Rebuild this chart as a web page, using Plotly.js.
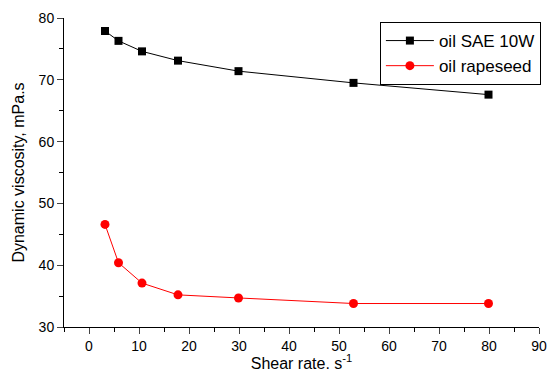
<!DOCTYPE html>
<html><head><meta charset="utf-8">
<script src="https://cdn.plot.ly/plotly-3.0.1.min.js"></script>
<style>body{margin:0;padding:0;background:#fff}#chart{width:548px;height:372px}</style>
</head><body><div id="chart"></div>
<script>
const shearRate = [3.2, 5.9, 10.6, 17.8, 29.9, 52.9, 79.9];
const sae10w = [77.9, 76.3, 74.6, 73.1, 71.4, 69.5, 67.6];
const rapeseed = [46.6, 40.4, 37.1, 35.2, 34.7, 33.8, 33.8];
const xTicks = [0, 10, 20, 30, 40, 50, 60, 70, 80, 90];
const yTicks = [30, 40, 50, 60, 70, 80];

const font = {family: 'Liberation Sans, Arial, sans-serif', color: '#000'};
const traces = [
  {x: shearRate, y: sae10w, name: 'oil SAE 10W', type: 'scatter', mode: 'lines+markers',
   line: {color: '#000', width: 1}, marker: {symbol: 'square', size: 8, color: '#000'}},
  {x: shearRate, y: rapeseed, name: 'oil rapeseed', type: 'scatter', mode: 'lines+markers',
   line: {color: '#ff0000', width: 1}, marker: {symbol: 'circle', size: 9, color: '#ff0000'}}
];
const layout = {
  width: 548, height: 372,
  margin: {l: 64, r: 9, t: 18, b: 45, autoexpand: false},
  paper_bgcolor: '#fff', plot_bgcolor: '#fff',
  font: Object.assign({size: 14}, font),
  showlegend: true,
  legend: {x: 1.004, xanchor: 'right', y: 0.987, yanchor: 'top', bordercolor: '#000', borderwidth: 1,
    bgcolor: '#fff', font: Object.assign({size: 17}, font), tracegroupgap: 0, itemwidth: 48},
  xaxis: {range: [-5, 90], tickvals: xTicks, ticktext: xTicks.map(String), ticks: 'outside', ticklen: 6,
    showgrid: false, zeroline: false, showline: true, linecolor: '#000', linewidth: 1,
    tickfont: Object.assign({size: 14}, font),
    minor: {dtick: 5, ticks: 'outside', ticklen: 4, tickcolor: '#000'},
    title: {text: 'Shear rate. s<sup>-1</sup>', font: Object.assign({size: 16}, font), standoff: 4}},
  yaxis: {range: [30, 80], tickvals: yTicks, ticktext: yTicks.map(String), ticks: 'outside', ticklen: 6,
    showgrid: false, zeroline: false, showline: true, linecolor: '#000', linewidth: 1,
    tickfont: Object.assign({size: 14}, font),
    minor: {dtick: 5, ticks: 'outside', ticklen: 4, tickcolor: '#000'},
    title: {text: 'Dynamic viscosity, mPa.s', font: Object.assign({size: 16}, font), standoff: 10}}
};
Plotly.newPlot('chart', traces, layout, {displayModeBar: false, staticPlot: true});
</script></body></html>
